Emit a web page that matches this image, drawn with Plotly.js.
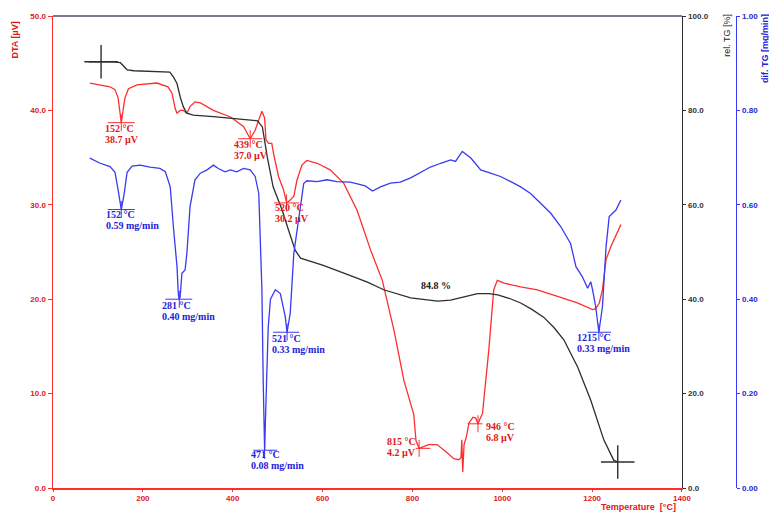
<!DOCTYPE html>
<html>
<head>
<meta charset="utf-8">
<script src="https://cdn.plot.ly/plotly-3.0.1.min.js"></script>
<style>
  html, body { margin: 0; padding: 0; background: #fff; }
  #chart { width: 769px; height: 512px; }
</style>
</head>
<body>
<div id="chart"></div>
<script>
// ---- Thermal analysis data: temperature in °C ----
// Relative mass (TG, %)
const tgTemp = [80, 107, 135, 150, 158, 165, 180, 220, 260, 268,
  276, 283, 290, 298, 312, 357, 432, 455, 466, 477,
  490, 510, 522, 539, 551, 600, 640, 700, 736, 796,
  856, 885, 915, 945, 970, 990, 1015, 1041, 1065, 1092,
  1115, 1137, 1168, 1197, 1226, 1248, 1257];
const tgValue = [90.3, 90.3, 90.3, 90.1, 89.4, 88.6, 88.4, 88.3, 88.1, 87.1,
  85.7, 82.9, 80.8, 79.4, 79.0, 78.7, 78.1, 77.8, 76.5, 70.1,
  63.8, 58.9, 55.3, 50.4, 48.7, 47.2, 45.8, 43.6, 42.0, 40.3,
  39.6, 39.8, 40.5, 41.2, 41.2, 40.9, 40.2, 39.2, 37.9, 36.2,
  34.0, 31.4, 25.6, 18.6, 10.2, 5.9, 5.5];

// DTA signal (µV)
const dtaTemp = [82, 105, 127, 138, 145, 152, 160, 168, 187, 231,
  256, 265, 272, 276, 283, 290, 298, 305, 316, 328,
  357, 395, 424, 439, 450, 458, 465, 471, 474, 480,
  487, 491, 502, 513, 520, 528, 536, 543, 554, 565,
  588, 617, 647, 677, 707, 733, 759, 781, 803, 808,
  815, 836, 855, 878, 892, 903, 908, 910, 912, 915,
  920, 926, 935, 941, 946, 951, 956, 970, 981, 989,
  1004, 1041, 1078, 1123, 1167, 1201, 1208, 1216, 1223, 1231,
  1242, 1264];
const dtaValue = [42.9, 42.7, 42.5, 42.2, 41.3, 38.7, 41.3, 42.3, 42.7, 42.9,
  42.5, 41.8, 40.2, 39.7, 40.0, 40.0, 39.7, 40.4, 40.9, 40.8,
  40.0, 39.3, 38.3, 37.0, 37.9, 39.0, 39.9, 39.2, 36.9, 36.5,
  36.5, 35.4, 33.0, 31.6, 30.2, 30.5, 30.9, 32.6, 34.2, 34.7,
  34.4, 33.7, 32.3, 29.4, 25.2, 22.0, 16.7, 11.4, 7.8, 5.0,
  4.2, 4.6, 4.6, 3.7, 3.1, 3.0, 3.2, 5.1, 1.7, 4.6,
  5.4, 6.9, 7.5, 7.4, 6.8, 7.4, 7.9, 14.6, 21.0, 22.0,
  21.7, 21.3, 21.0, 20.3, 19.6, 18.9, 19.0, 19.6, 21.0, 24.2,
  25.6, 27.9];

// Differential TG (mg/min)
const dtgTemp = [82, 105, 127, 138, 145, 152, 158, 165, 176, 194,
  216, 238, 250, 261, 268, 276, 279, 281, 283, 287,
  294, 298, 305, 316, 328, 343, 357, 368, 383, 395,
  409, 424, 439, 450, 458, 461, 465, 468, 471, 474,
  479, 484, 495, 506, 517, 521, 528, 536, 547, 558,
  565, 588, 610, 632, 662, 695, 711, 729, 751, 773,
  796, 818, 840, 863, 885, 896, 911, 930, 952, 974,
  996, 1019, 1041, 1063, 1086, 1108, 1130, 1152, 1164, 1178,
  1190, 1197, 1201, 1208, 1215, 1223, 1231, 1238, 1253, 1264];
const dtgValue = [0.699, 0.688, 0.681, 0.669, 0.631, 0.59, 0.621, 0.669, 0.682, 0.684,
  0.680, 0.677, 0.670, 0.638, 0.553, 0.469, 0.41, 0.40, 0.405, 0.455,
  0.462, 0.497, 0.596, 0.653, 0.667, 0.674, 0.684, 0.677, 0.670, 0.674,
  0.670, 0.677, 0.674, 0.660, 0.624, 0.55, 0.42, 0.22, 0.08, 0.18,
  0.34, 0.40, 0.42, 0.412, 0.363, 0.33, 0.370, 0.497, 0.568, 0.645,
  0.651, 0.649, 0.653, 0.649, 0.648, 0.640, 0.629, 0.638, 0.646, 0.648,
  0.657, 0.669, 0.680, 0.688, 0.695, 0.692, 0.713, 0.699, 0.674, 0.667,
  0.660, 0.649, 0.638, 0.624, 0.603, 0.582, 0.554, 0.518, 0.469, 0.448,
  0.423, 0.437, 0.420, 0.384, 0.33, 0.384, 0.511, 0.575, 0.589, 0.610];

// Evaluated peaks
const dtaPeakTemp = [152, 439, 520, 815, 946];
const dtaPeakValue = [38.7, 37.0, 30.2, 4.2, 6.8];
const dtgPeakTemp = [152, 281, 471, 521, 1215];
const dtgPeakValue = [0.59, 0.40, 0.08, 0.33, 0.33];

// Start / end marks of the TG step evaluation
const tgMarkTemp = [107, 1257];
const tgMarkValue = [90.3, 5.5];
const massLossText = '84.8 %';
const massLossTemp = 853;
const massLossValue = 42.8;

// ---- styling ----
const RED = '#ff2e2e';
const RED_TXT = '#e01818';
const BLUE = '#3a3af2';
const BLUE_TXT = '#2323d6';
const BLACK = '#2e2e2e';
const XEND = 0.8909;          // right end of the temperature axis (paper)
const DTG_POS = 0.9674;       // position of the dif. TG axis (paper)

const tickFont = c => ({ family: 'Liberation Sans, Arial, sans-serif', size: 8, color: c, weight: 'bold' });
const labelFont = c => ({ family: 'Liberation Serif, Times New Roman, serif', size: 10, color: c, weight: 'bold' });

const traces = [
  { x: dtaTemp, y: dtaValue, yaxis: 'y', mode: 'lines', line: { color: RED, width: 1.3 }, hoverinfo: 'skip' },
  { x: tgTemp, y: tgValue, yaxis: 'y2', mode: 'lines', line: { color: BLACK, width: 1.3 }, hoverinfo: 'skip' },
  { x: dtgTemp, y: dtgValue, yaxis: 'y3', mode: 'lines', line: { color: BLUE, width: 1.3 }, hoverinfo: 'skip' },
  { x: tgMarkTemp, y: tgMarkValue, yaxis: 'y2', mode: 'markers',
    marker: { symbol: 'cross-thin', size: 24, line: { color: BLACK, width: 1.4 } }, hoverinfo: 'skip' }
];

// label layout per peak: bar extent (°C left/right), text offset (px)
const dtaBarL = [30, 27, 28, 8, 23], dtaBarR = [30, 27, 28, 25, 10];
const dtaDx = [-18, -18, -14, -34, 6], dtaDy = [5.5, 6, 5, -7, 3];
const dtgBarL = [30, 31, 25, 31, 25], dtgBarR = [30, 29, 28, 27, 27];
const dtgDx = [-17, -19, -16, -17, -24], dtgDy = [5, 6, 4, 6, 5];
const LINE_GAP = 11;

const shapes = [
  { type: 'line', xref: 'paper', yref: 'paper', x0: 0, x1: XEND, y0: 1, y1: 1,
    line: { color: '#4d4d6e', width: 1.5 } }
];
const annotations = [];

function addPeak(t, v, yref, barL, barR, halfV, dx, dy, line1, line2, lineColor, txtColor) {
  shapes.push({ type: 'line', xref: 'x', yref: yref, x0: t - barL, x1: t + barR, y0: v, y1: v,
    line: { color: lineColor, width: 1 } });
  shapes.push({ type: 'line', xref: 'x', yref: yref, x0: t, x1: t, y0: v + halfV, y1: v - halfV,
    line: { color: lineColor, width: 1 } });
  [line1, line2].forEach((txt, k) => {
    annotations.push({ x: t, y: v, xref: 'x', yref: yref, text: txt, showarrow: false,
      xanchor: 'left', yanchor: 'middle', xshift: dx, yshift: -(dy + k * LINE_GAP),
      font: labelFont(txtColor) });
  });
}

dtaPeakTemp.forEach((t, i) => {
  const v = dtaPeakValue[i];
  addPeak(t, v, 'y', dtaBarL[i], dtaBarR[i], 0.9, dtaDx[i], dtaDy[i],
    t + ' °C', v.toFixed(1) + ' µV', RED, RED_TXT);
});
dtgPeakTemp.forEach((t, i) => {
  const v = dtgPeakValue[i];
  addPeak(t, v, 'y3', dtgBarL[i], dtgBarR[i], 0.018, dtgDx[i], dtgDy[i],
    t + ' °C', v.toFixed(2) + ' mg/min', BLUE, BLUE_TXT);
});

annotations.push({ x: massLossTemp, y: massLossValue, xref: 'x', yref: 'y2', text: massLossText,
  showarrow: false, xanchor: 'center', yanchor: 'middle', font: labelFont('#222') });

// axis titles
annotations.push({ xref: 'paper', yref: 'paper', x: -0.054, y: 0.95, text: 'DTA [µV]', textangle: -90,
  showarrow: false, xanchor: 'center', yanchor: 'middle',
  font: { family: 'Liberation Sans, Arial, sans-serif', size: 9, color: RED_TXT, weight: 'bold' } });
annotations.push({ xref: 'paper', yref: 'paper', x: 0.9547, y: 0.958, text: 'rel. TG [%]', textangle: -90,
  showarrow: false, xanchor: 'center', yanchor: 'middle',
  font: { family: 'Liberation Sans, Arial, sans-serif', size: 9, color: '#222' } });
annotations.push({ xref: 'paper', yref: 'paper', x: 1.0085, y: 0.93, text: 'dif. TG [mg/min]', textangle: -90,
  showarrow: false, xanchor: 'center', yanchor: 'middle',
  font: { family: 'Liberation Sans, Arial, sans-serif', size: 9, color: BLUE_TXT, weight: 'bold' } });
annotations.push({ xref: 'paper', yref: 'paper', x: 0.885, y: -0.0405, text: 'Temperature  [°C]',
  showarrow: false, xanchor: 'right', yanchor: 'middle',
  font: { family: 'Liberation Sans, Arial, sans-serif', size: 9, color: RED_TXT, weight: 'bold' } });

const layout = {
  width: 769, height: 512,
  margin: { l: 53, r: 10, t: 16, b: 24, pad: 0 },
  paper_bgcolor: '#ffffff', plot_bgcolor: '#ffffff',
  showlegend: false,
  xaxis: {
    domain: [0, XEND], range: [0, 1400], tick0: 0, dtick: 200,
    showgrid: false, zeroline: false, showline: true, linecolor: RED, linewidth: 1.5,
    ticks: 'outside', ticklen: 2, tickcolor: RED, tickfont: tickFont(RED_TXT)
  },
  yaxis: {
    range: [0, 50], tick0: 0, dtick: 10, tickformat: '.1f',
    showgrid: false, zeroline: false, showline: true, linecolor: RED, linewidth: 1.5,
    ticks: 'outside', ticklen: 4, tickcolor: RED, tickfont: tickFont(RED_TXT)
  },
  yaxis2: {
    overlaying: 'y', side: 'right', anchor: 'x', range: [0, 100], tick0: 0, dtick: 20, tickformat: '.1f',
    showgrid: false, zeroline: false, showline: true, linecolor: BLACK, linewidth: 1.5,
    ticks: 'outside', ticklen: 3, tickcolor: BLACK, tickfont: tickFont('#333')
  },
  yaxis3: {
    overlaying: 'y', side: 'right', anchor: 'free', position: DTG_POS, range: [0, 1], tick0: 0, dtick: 0.2,
    tickformat: '.2f',
    showgrid: false, zeroline: false, showline: true, linecolor: BLUE, linewidth: 1.5,
    ticks: 'outside', ticklen: 3, tickcolor: BLUE, tickfont: tickFont(BLUE_TXT)
  },
  shapes: shapes,
  annotations: annotations
};

Plotly.newPlot('chart', traces, layout, { staticPlot: true, displayModeBar: false });
</script>
</body>
</html>
